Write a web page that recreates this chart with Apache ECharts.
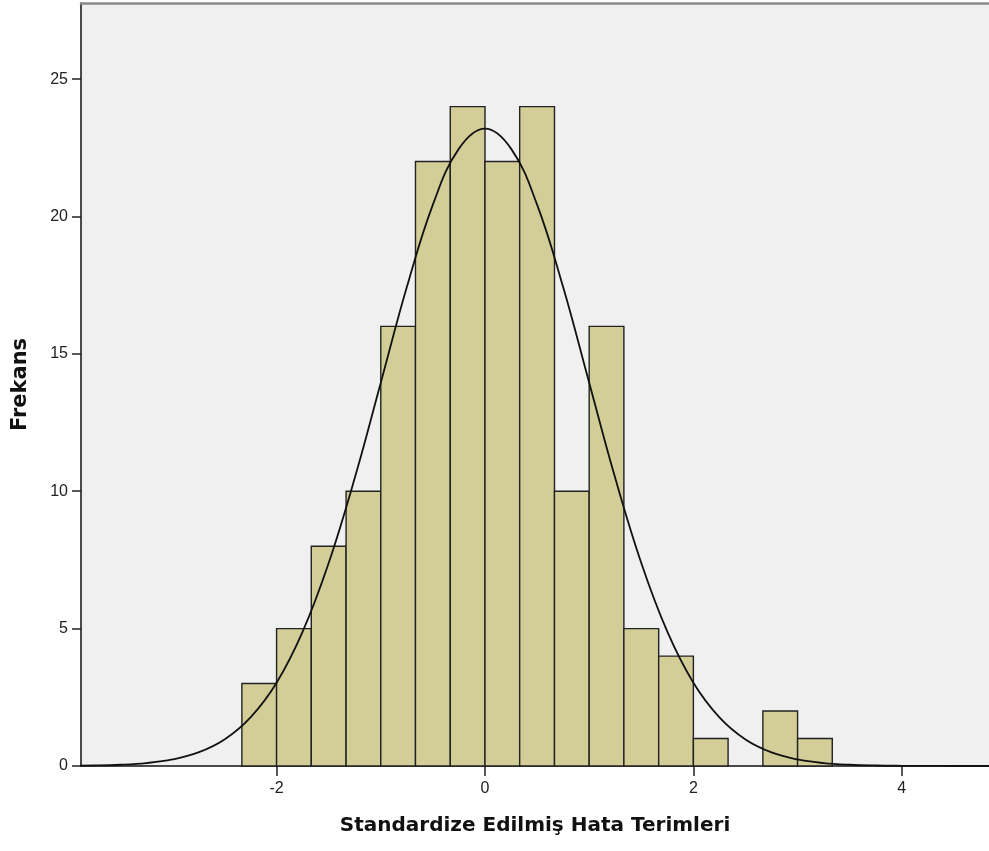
<!DOCTYPE html>
<html>
<head>
<meta charset="utf-8">
<script src="https://cdn.jsdelivr.net/npm/echarts@6/dist/echarts.min.js"></script>
<style>
  html, body { margin: 0; padding: 0; background: #ffffff; }
  #chart { width: 989px; height: 851px; }
</style>
</head>
<body>
<div id="chart"></div>
<script>
// ---- data ----
const binEdges = [-2.333, -2, -1.667, -1.333, -1, -0.667, -0.333, 0, 0.333, 0.667, 1, 1.333, 1.667, 2, 2.333, 2.667, 3, 3.333];
const counts   = [3, 5, 8, 10, 16, 22, 24, 22, 24, 10, 16, 5, 4, 1, 0, 2, 1];

// fitted normal curve
const curveX = [-4, -3.75, -3.5, -3.25, -3, -2.75, -2.5, -2.25, -2, -1.75, -1.5, -1.25, -1, -0.75, -0.5, -0.25, 0,
                0.25, 0.5, 0.75, 1, 1.25, 1.5, 1.75, 2, 2.25, 2.5, 2.75, 3, 3.25, 3.5, 3.75, 4, 4.25, 4.5, 4.75, 5];
const curveY = [0.007, 0.018, 0.046, 0.108, 0.238, 0.495, 0.966, 1.77, 3.03, 4.89, 7.39, 10.48, 13.95, 17.43, 20.43, 22.47, 23.2,
                22.47, 20.43, 17.43, 13.95, 10.48, 7.39, 4.89, 3.03, 1.77, 0.966, 0.495, 0.238, 0.108, 0.046, 0.018, 0.007, 0.0024, 0.0008, 0.0002, 0.0001];

const xTicks = [-2, 0, 2, 4];
const yTicks = [0, 5, 10, 15, 20, 25];

const xTitle = 'Standardize Edilmiş Hata Terimleri';
const yTitle = 'Frekans';

// ---- build ----
const bins = counts.map((c, i) => [binEdges[i], binEdges[i + 1], c]).filter(d => d[2] > 0);
const curve = curveX.map((x, i) => [x, curveY[i]]);

const chart = echarts.init(document.getElementById('chart'), null, { renderer: 'canvas' });

const labelStyle = { color: '#222', fontFamily: 'Liberation Sans', fontSize: 16 };

chart.setOption({
  animation: false,
  backgroundColor: '#ffffff',
  grid: {
    left: 81, top: 3, right: 0, bottom: 85,
    show: true, backgroundColor: '#f0f0f0', borderWidth: 0
  },
  xAxis: [{
    type: 'value',
    min: -3.877, max: 4.837,
    position: 'bottom',
    splitLine: { show: false },
    axisLine: { show: true, onZero: false, lineStyle: { color: '#111', width: 1.5 } },
    axisTick: { show: true, customValues: xTicks, length: 10, lineStyle: { color: '#222', width: 1.5 } },
    axisLabel: Object.assign({ customValues: xTicks, margin: 15 }, labelStyle),
    name: xTitle,
    nameLocation: 'middle',
    nameGap: 50,
    nameTextStyle: { color: '#111', fontFamily: 'DejaVu Sans', fontWeight: 'bold', fontSize: 20 }
  }, {
    type: 'value',
    min: -3.877, max: 4.837,
    position: 'top',
    splitLine: { show: false },
    axisLine: { show: true, onZero: false, lineStyle: { color: '#8a8a8a', width: 2.5 } },
    axisTick: { show: false },
    axisLabel: { show: false }
  }],
  yAxis: {
    type: 'value',
    min: 0, max: 27.77,
    position: 'left',
    splitLine: { show: false },
    axisLine: { show: true, onZero: false, lineStyle: { color: '#111', width: 1.5 } },
    axisTick: { show: true, customValues: yTicks, length: 9, lineStyle: { color: '#222', width: 1.5 } },
    axisLabel: Object.assign({ customValues: yTicks, margin: 13 }, labelStyle),
    name: yTitle,
    nameLocation: 'middle',
    nameGap: 50,
    nameRotate: 90,
    nameTextStyle: { color: '#111', fontFamily: 'DejaVu Sans', fontWeight: 'bold', fontSize: 21 }
  },
  series: [{
    type: 'custom',
    xAxisIndex: 0,
    data: bins,
    renderItem: function (params, api) {
      const p0 = api.coord([api.value(0), api.value(2)]);
      const p1 = api.coord([api.value(1), 0]);
      return {
        type: 'rect',
        shape: { x: p0[0], y: p0[1], width: p1[0] - p0[0], height: p1[1] - p0[1] },
        style: { fill: '#d3ce97', stroke: '#222222', lineWidth: 1.4 }
      };
    },
    z: 2
  }, {
    type: 'line',
    xAxisIndex: 0,
    data: curve,
    smooth: 0.4,
    showSymbol: false,
    symbol: 'none',
    lineStyle: { color: '#111', width: 1.8 },
    z: 3
  }]
});
</script>
</body>
</html>
